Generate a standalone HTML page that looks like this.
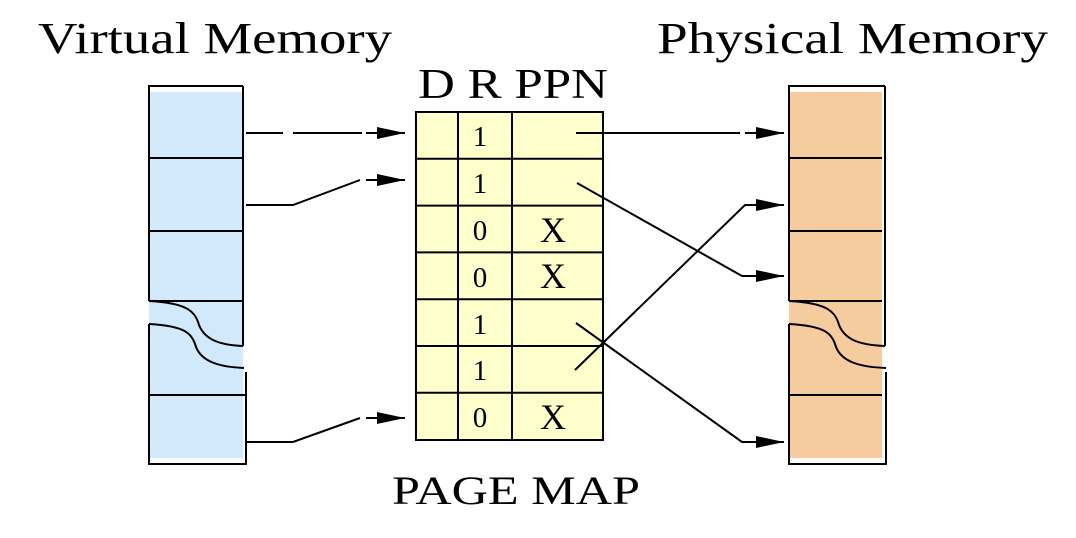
<!DOCTYPE html>
<html><head><meta charset="utf-8"><style>
html,body{margin:0;padding:0;background:#fff;width:1076px;height:538px;overflow:hidden}
text{font-family:"Liberation Serif",serif;fill:#000}
</style></head><body>
<svg width="1076" height="538" viewBox="0 0 1076 538" xmlns="http://www.w3.org/2000/svg">
<defs>
<marker id="ah" markerWidth="28" markerHeight="14" refX="28" refY="7" orient="auto" markerUnits="userSpaceOnUse">
<path d="M0,1 L28,7 L0,13 Z" fill="#000"/></marker>
</defs>
<text x="38" y="53" font-size="44" textLength="354" lengthAdjust="spacingAndGlyphs">Virtual Memory</text>
<text x="657" y="53" font-size="44" textLength="391" lengthAdjust="spacingAndGlyphs">Physical Memory</text>
<text x="418" y="98" font-size="42" textLength="190" lengthAdjust="spacingAndGlyphs">D R PPN</text>
<text x="392" y="504" font-size="40" textLength="248" lengthAdjust="spacingAndGlyphs">PAGE MAP</text>

<!-- virtual memory -->
<rect x="149" y="92" width="94" height="366" fill="#d2e8fb"/>
<g stroke="#000" stroke-width="2" fill="none">
<path d="M243,86 H149 V301"/>
<path d="M243,86 V346"/>
<path d="M149,324 V464 H246 V372"/>
<line x1="149" y1="158" x2="243" y2="158"/>
<line x1="149" y1="231" x2="243" y2="231"/>
<line x1="149" y1="301" x2="243" y2="301"/>
<line x1="149" y1="395" x2="246" y2="395"/>
<path d="M149,301 C185,303 195,310 199,325 C205,340 220,345 243,346"/>
<path d="M149,324 C185,326 192,333 196,347 C202,362 220,367 244,368"/>
</g>

<!-- physical memory -->
<rect x="789" y="92" width="93" height="366" fill="#f6cc9e"/>
<g stroke="#000" stroke-width="2" fill="none">
<path d="M885,86 H789 V301"/>
<path d="M885,86 V346"/>
<path d="M789,324 V464 H886 V372"/>
<line x1="789" y1="158" x2="882" y2="158"/>
<line x1="789" y1="231" x2="882" y2="231"/>
<line x1="789" y1="301" x2="882" y2="301"/>
<line x1="789" y1="395" x2="882" y2="395"/>
<path d="M789,301 C825,303 835,310 839,325 C845,340 860,345 885,346"/>
<path d="M789,324 C825,326 832,333 836,347 C842,362 860,367 886,368"/>
</g>

<!-- page map -->
<rect x="416" y="112" width="187" height="328" fill="#ffffcc" stroke="#000" stroke-width="2"/>
<g stroke="#000" stroke-width="2">
<line x1="458" y1="112" x2="458" y2="440"/>
<line x1="512" y1="112" x2="512" y2="440"/>
<line x1="416" y1="158.8" x2="603" y2="158.8"/>
<line x1="416" y1="205.6" x2="603" y2="205.6"/>
<line x1="416" y1="252.4" x2="603" y2="252.4"/>
<line x1="416" y1="299.2" x2="603" y2="299.2"/>
<line x1="416" y1="346" x2="603" y2="346"/>
<line x1="416" y1="392.8" x2="603" y2="392.8"/>
</g>
<g font-size="29" text-anchor="middle">
<text x="480" y="146">1</text>
<text x="480" y="193">1</text>
<text x="480" y="240">0</text>
<text x="480" y="287">0</text>
<text x="480" y="334">1</text>
<text x="480" y="380">1</text>
<text x="480" y="427">0</text>
</g>
<g font-size="36" text-anchor="middle">
<text x="553" y="242">X</text>
<text x="553" y="288">X</text>
<text x="553" y="429">X</text>
</g>

<!-- connectors -->
<g stroke="#000" stroke-width="2" fill="none">
<path d="M246,133 H283 M293,133 H362 M366,133 H405" marker-end="url(#ah)"/>
<path d="M246,205 H293 L360,180 M366,180 H405" marker-end="url(#ah)"/>
<path d="M246,442 H293 L360,418 M366,418 H405" marker-end="url(#ah)"/>
<path d="M576,133 H740 M745,133 H784" marker-end="url(#ah)"/>
<path d="M577,183 L742,276 H784" marker-end="url(#ah)"/>
<path d="M575,370 L745,205 H784" marker-end="url(#ah)"/>
<path d="M576,323 L742,442 H784" marker-end="url(#ah)"/>
</g>
</svg>
</body></html>
